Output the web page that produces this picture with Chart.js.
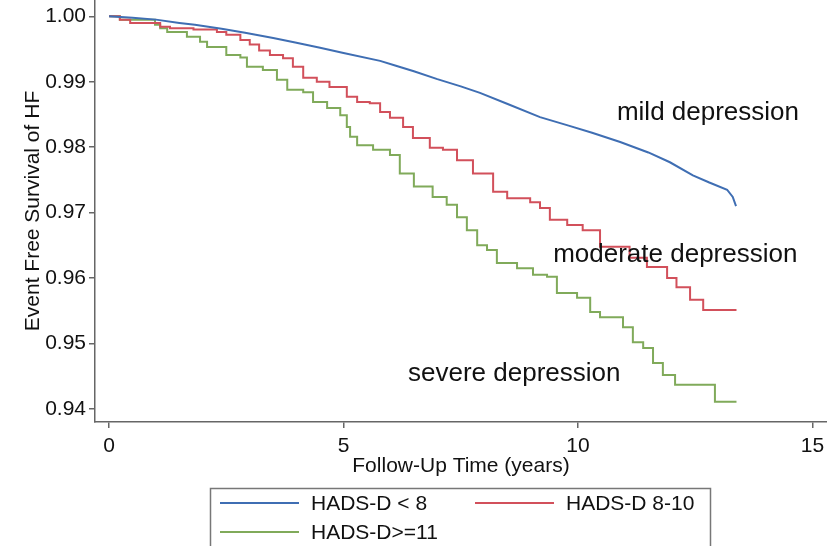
<!DOCTYPE html>
<html>
<head>
<meta charset="utf-8">
<script src="https://cdn.jsdelivr.net/npm/chart.js@4"></script>
<style>
  html, body { margin: 0; padding: 0; background: #fff; }
  #wrap { width: 827px; height: 546px; position: relative; }
</style>
</head>
<body>
<div id="wrap"><canvas id="km"></canvas></div>
<script>
// follow-up time (years) and survival for each group
const mildX = [0, 0.5, 1.0, 1.5, 1.83, 2.4, 2.9, 3.5, 3.97, 4.5, 5.0, 5.78, 6.1, 6.5, 7.0, 7.5, 7.91, 8.5, 9.19, 9.8, 10.3, 10.9, 11.5, 11.96, 12.45, 12.8, 13.18, 13.3, 13.37];
const mildY = [1.0, 0.9998, 0.9995, 0.999, 0.9987, 0.9981, 0.9975, 0.9967, 0.996, 0.9952, 0.9944, 0.9932, 0.9925, 0.9916, 0.9904, 0.9893, 0.9883, 0.9866, 0.9846, 0.9833, 0.9822, 0.9808, 0.9792, 0.9777, 0.9757, 0.9746, 0.9735, 0.9724, 0.971];

const modX = [0, 0.23, 0.45, 1.09, 1.3, 1.8, 2.3, 2.5, 2.8, 3.0, 3.2, 3.43, 3.71, 3.92, 4.14, 4.43, 4.7, 5.07, 5.29, 5.56, 5.78, 5.99, 6.27, 6.48, 6.84, 7.12, 7.42, 7.76, 8.19, 8.49, 8.98, 9.19, 9.4, 9.77, 10.1, 10.47, 11.1, 11.47, 11.9, 12.1, 12.39, 12.67, 13.38];
const modY = [1.0, 0.9995, 0.999, 0.9984, 0.9982, 0.998, 0.9976, 0.9972, 0.9964, 0.9957, 0.9948, 0.9941, 0.9936, 0.9923, 0.9906, 0.99, 0.9892, 0.9877, 0.9869, 0.9867, 0.9854, 0.9845, 0.9831, 0.9814, 0.9799, 0.9796, 0.978, 0.976, 0.9732, 0.9722, 0.9716, 0.9707, 0.9689, 0.9681, 0.9673, 0.9648, 0.9631, 0.9617, 0.96, 0.9586, 0.9567, 0.9551, 0.9551];

const sevX = [0, 0.23, 0.98, 1.09, 1.24, 1.66, 1.94, 2.09, 2.5, 2.8, 2.94, 3.28, 3.58, 3.8, 4.14, 4.35, 4.65, 4.93, 5.07, 5.14, 5.29, 5.63, 5.99, 6.2, 6.5, 6.9, 7.2, 7.42, 7.63, 7.85, 8.06, 8.27, 8.7, 9.04, 9.34, 9.55, 9.98, 10.26, 10.47, 10.96, 11.17, 11.39, 11.6, 11.81, 12.07, 12.92, 13.38];
const sevY = [1.0, 0.9995, 0.9987, 0.9982, 0.9976, 0.9969, 0.9961, 0.9953, 0.9941, 0.9937, 0.9923, 0.9918, 0.9903, 0.9888, 0.9884, 0.9869, 0.986, 0.9849, 0.9831, 0.9816, 0.9803, 0.9796, 0.9788, 0.976, 0.974, 0.9724, 0.9712, 0.9693, 0.9673, 0.965, 0.9643, 0.9623, 0.9615, 0.9605, 0.9602, 0.9577, 0.957, 0.9548, 0.954, 0.9525, 0.9502, 0.9493, 0.947, 0.9452, 0.9437, 0.9411, 0.9411];

const seriesNames = ['HADS-D < 8', 'HADS-D 8-10', 'HADS-D>=11'];
const curveLabels = ['mild depression', 'moderate depression', 'severe depression'];
const xTicks = [0, 5, 10, 15];
const yTicks = [0.94, 0.95, 0.96, 0.97, 0.98, 0.99, 1.00];

const colors = ['#3f6eb3', '#d2505b', '#80aa5a'];
const FONT = '"Liberation Sans", Arial, sans-serif';

function pts(xs, ys) {
    return xs.map((x, i) => ({ x: x, y: ys[i] }));
}

// where the curve labels sit (data coords, left edge / vertical middle)
const labelAnchors = [[10.83, 0.98525], [9.47, 0.96353], [6.375, 0.94533]];

const extras = {
    id: 'extras',
    afterDraw(chart) {
        const ctx = chart.ctx;
        const xs = chart.scales.x, ys = chart.scales.y;
        ctx.save();
        ctx.fillStyle = '#111';
        ctx.font = '26px ' + FONT;
        ctx.textBaseline = 'middle';
        ctx.textAlign = 'left';
        curveLabels.forEach((t, i) => {
            ctx.fillText(t, xs.getPixelForValue(labelAnchors[i][0]), ys.getPixelForValue(labelAnchors[i][1]));
        });

        // legend box under the plot
        ctx.strokeStyle = '#777';
        ctx.lineWidth = 1.5;
        ctx.strokeRect(210.5, 488.5, 500, 70);
        ctx.font = '21px ' + FONT;
        const slots = [[220, 503], [475, 503], [220, 532]];
        chart.data.datasets.forEach((ds, i) => {
            const [lx, ly] = slots[i];
            ctx.strokeStyle = ds.borderColor;
            ctx.lineWidth = 2;
            ctx.beginPath();
            ctx.moveTo(lx, ly);
            ctx.lineTo(lx + 79, ly);
            ctx.stroke();
            ctx.fillStyle = '#111';
            ctx.fillText(ds.label, lx + 91, ly + 1);
        });
        ctx.restore();
    }
};

new Chart(document.getElementById('km'), {
    type: 'line',
    data: {
        datasets: [
            { label: seriesNames[0], data: pts(mildX, mildY), borderColor: colors[0], borderWidth: 2, pointRadius: 0, stepped: false, tension: 0 },
            { label: seriesNames[1], data: pts(modX, modY), borderColor: colors[1], borderWidth: 2, pointRadius: 0, stepped: true },
            { label: seriesNames[2], data: pts(sevX, sevY), borderColor: colors[2], borderWidth: 2, pointRadius: 0, stepped: true }
        ]
    },
    options: {
        responsive: true,
        maintainAspectRatio: false,
        animation: false,
        layout: { padding: { top: 0, right: 0, bottom: 66, left: 0 } },
        plugins: { legend: { display: false }, tooltip: { enabled: false } },
        scales: {
            x: {
                type: 'linear',
                min: -0.3,
                max: 15.31,
                afterBuildTicks: s => { s.ticks = xTicks.map(v => ({ value: v })); },
                afterFit: s => { s.height = 58; s.paddingLeft = 0; s.paddingRight = 0; },
                grid: { drawOnChartArea: false, drawTicks: true, tickLength: 6, color: '#666', lineWidth: 1.5 },
                border: { display: true, color: '#666', width: 1.5 },
                ticks: { color: '#111', font: { family: FONT, size: 21 }, padding: 6, maxRotation: 0, callback: v => String(v) },
                title: { display: true, text: 'Follow-Up Time (years)', color: '#111', font: { family: FONT, size: 21 }, padding: { top: 0, bottom: 1 } }
            },
            y: {
                min: 0.938,
                max: 1.0025,
                afterBuildTicks: s => { s.ticks = yTicks.map(v => ({ value: v })); },
                afterFit: s => { s.width = 95; s.paddingTop = 0; s.paddingBottom = 0; },
                grid: { drawOnChartArea: false, drawTicks: true, tickLength: 6, color: '#666', lineWidth: 1.5 },
                border: { display: true, color: '#666', width: 1.5 },
                ticks: { color: '#111', font: { family: FONT, size: 21 }, padding: 3, callback: v => v.toFixed(2) },
                title: { display: true, text: 'Event Free Survival of HF', color: '#111', font: { family: FONT, size: 21 }, padding: { top: 21, bottom: 0 } }
            }
        }
    },
    plugins: [extras]
});
</script>
</body>
</html>
